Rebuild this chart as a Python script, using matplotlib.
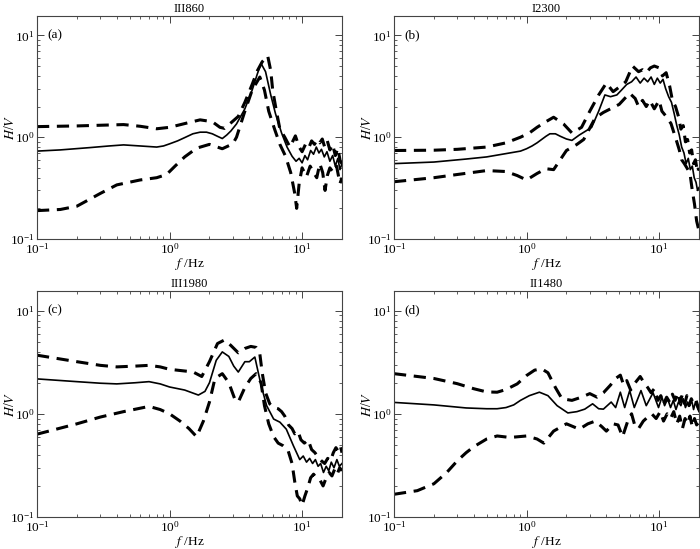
import matplotlib
matplotlib.use("Agg")
import matplotlib.pyplot as plt
from matplotlib.ticker import LogLocator, NullFormatter

plt.rcParams['font.family'] = ['Liberation Serif', 'DejaVu Serif']
plt.rcParams['mathtext.fontset'] = 'stix'

titles = ["III860", "I2300", "III1980", "II1480"]
panel_tags = ["(a)", "(b)", "(c)", "(d)"]

# ---- panel (a) ----
a_mean_f = [0.1, 0.15, 0.25, 0.35, 0.45, 0.6, 0.8, 0.9, 1.0, 1.15, 1.3, 1.5, 1.7, 1.9, 2.1, 2.3, 2.5, 2.7, 2.9, 3.2, 3.7, 4.2, 4.6, 4.9, 5.3, 5.8, 6.3, 7.0, 7.7, 8.4, 9.0, 9.5, 10.0, 10.5, 11.0, 11.6, 12.2, 12.8, 13.4, 14.0, 14.7, 15.4, 16.2, 17.0, 17.8, 18.6, 19.3, 20.0]
a_mean_h = [0.73, 0.75, 0.79, 0.82, 0.84, 0.82, 0.80, 0.82, 0.86, 0.92, 0.99, 1.08, 1.12, 1.12, 1.08, 1.02, 0.97, 1.05, 1.15, 1.35, 1.9, 2.9, 4.2, 5.3, 4.4, 2.6, 1.7, 1.1, 0.80, 0.65, 0.58, 0.62, 0.56, 0.66, 0.60, 0.74, 0.68, 0.80, 0.70, 0.76, 0.64, 0.72, 0.58, 0.66, 0.52, 0.62, 0.48, 0.55]
a_up_f = [0.1, 0.2, 0.3, 0.45, 0.6, 0.8, 1.0, 1.3, 1.7, 2.1, 2.4, 2.6, 2.9, 3.3, 3.7, 4.2, 4.6, 5.0, 5.5, 5.8, 6.0, 6.4, 6.8, 7.4, 8.1, 8.9, 9.5, 10.0, 10.6, 11.2, 11.8, 12.4, 13.0, 13.6, 14.2, 14.8, 15.5, 16.2, 17.0, 17.8, 18.6, 19.4, 20.0]
a_up_h = [1.27, 1.29, 1.31, 1.33, 1.28, 1.21, 1.25, 1.36, 1.48, 1.42, 1.25, 1.22, 1.38, 1.6, 2.2, 3.3, 4.5, 5.5, 6.3, 4.5, 2.9, 1.8, 1.2, 1.0, 0.8, 1.03, 0.80, 0.72, 0.85, 0.78, 0.92, 0.85, 0.95, 0.88, 0.96, 0.80, 0.92, 0.75, 0.85, 0.66, 0.78, 0.58, 0.55]
a_lo_f = [0.1, 0.15, 0.2, 0.3, 0.4, 0.6, 0.8, 0.95, 1.1, 1.3, 1.6, 2.0, 2.5, 3.0, 3.2, 3.7, 4.2, 4.8, 5.2, 5.6, 6.2, 6.8, 7.5, 8.2, 8.8, 9.1, 9.5, 10.0, 10.8, 11.5, 12.2, 12.9, 13.6, 14.3, 14.9, 15.5, 16.2, 17.2, 18.2, 19.3, 20.0]
a_lo_h = [0.19, 0.195, 0.21, 0.28, 0.34, 0.38, 0.40, 0.43, 0.52, 0.64, 0.78, 0.85, 0.77, 0.86, 1.0, 1.8, 2.9, 3.9, 2.9, 1.8, 1.2, 0.85, 0.65, 0.45, 0.28, 0.20, 0.35, 0.50, 0.41, 0.52, 0.45, 0.40, 0.55, 0.45, 0.30, 0.42, 0.50, 0.45, 0.52, 0.35, 0.40]

# ---- panel (b) ----
b_mean_f = [0.1, 0.2, 0.35, 0.5, 0.7, 0.9, 1.0, 1.1, 1.2, 1.3, 1.4, 1.5, 1.65, 1.8, 2.0, 2.2, 2.5, 2.8, 3.1, 3.5, 3.9, 4.3, 4.8, 5.2, 5.7, 6.2, 6.7, 7.2, 7.7, 8.2, 8.7, 9.2, 9.7, 10.2, 10.7, 11.2, 11.8, 12.4, 13.0, 13.6, 14.2, 14.8, 15.4, 16.0, 16.6, 17.2, 17.8, 18.4, 19.0, 19.5, 20.0]
b_mean_h = [0.55, 0.57, 0.61, 0.64, 0.69, 0.73, 0.77, 0.82, 0.88, 0.95, 1.02, 1.08, 1.08, 1.02, 0.96, 0.93, 1.05, 1.15, 1.25, 1.8, 2.6, 2.5, 2.6, 2.9, 3.3, 3.5, 3.9, 3.4, 3.8, 3.5, 3.9, 3.3, 3.8, 3.4, 3.7, 3.0, 2.5, 2.2, 1.7, 1.3, 1.05, 0.80, 0.70, 0.55, 0.62, 0.48, 0.52, 0.40, 0.36, 0.30, 0.32]
b_up_f = [0.1, 0.2, 0.3, 0.5, 0.7, 0.9, 1.05, 1.2, 1.4, 1.6, 1.9, 2.2, 2.6, 3.0, 3.5, 4.0, 4.5, 5.0, 5.6, 6.3, 7.0, 7.5, 8.0, 8.6, 9.2, 10.0, 10.6, 11.3, 12.0, 12.6, 13.3, 14.0, 14.6, 15.2, 15.8, 16.4, 17.0, 17.6, 18.2, 18.8, 19.5, 20.0]
b_up_h = [0.74, 0.745, 0.76, 0.80, 0.88, 1.0, 1.1, 1.25, 1.42, 1.57, 1.35, 1.1, 1.25, 1.8, 2.6, 3.4, 2.8, 3.1, 3.5, 5.0, 4.4, 4.6, 4.3, 4.8, 5.0, 4.8, 4.0, 4.3, 3.2, 2.3, 2.0, 1.6, 1.2, 1.3, 0.9, 0.95, 0.7, 0.75, 0.55, 0.6, 0.45, 0.5]
b_lo_f = [0.1, 0.2, 0.3, 0.5, 0.7, 0.85, 1.0, 1.2, 1.4, 1.6, 2.0, 2.4, 2.7, 3.3, 3.8, 4.3, 5.0, 5.5, 6.0, 6.6, 7.0, 7.5, 8.0, 8.5, 9.2, 10.0, 10.5, 11.3, 12.3, 13.5, 14.2, 14.8, 15.5, 16.2, 17.1, 17.8, 18.5, 19.2, 20.0]
b_lo_h = [0.365, 0.40, 0.43, 0.47, 0.46, 0.42, 0.38, 0.44, 0.49, 0.48, 0.74, 0.85, 0.95, 1.55, 1.75, 1.9, 2.1, 2.4, 2.7, 2.4, 2.0, 2.3, 2.0, 2.3, 1.9, 2.3, 1.8, 1.6, 1.36, 0.93, 0.75, 0.6, 0.55, 0.5, 0.44, 0.3, 0.22, 0.15, 0.12]

# ---- panel (c) ----
c_mean_f = [0.1, 0.2, 0.3, 0.4, 0.55, 0.7, 0.85, 1.0, 1.3, 1.65, 1.85, 2.0, 2.25, 2.5, 2.8, 3.05, 3.3, 3.7, 4.0, 4.4, 4.9, 5.4, 6.1, 6.8, 7.6, 8.6, 9.6, 10.2, 10.8, 11.4, 12.0, 12.6, 13.2, 13.8, 14.5, 15.2, 15.9, 16.6, 17.4, 18.3, 19.1, 20.0]
c_mean_h = [2.18, 2.05, 1.98, 1.95, 2.0, 2.05, 1.95, 1.82, 1.70, 1.52, 1.65, 2.0, 3.3, 3.98, 3.6, 2.9, 2.54, 3.2, 3.2, 3.55, 1.9, 1.2, 0.89, 0.83, 0.71, 0.49, 0.36, 0.39, 0.34, 0.37, 0.33, 0.36, 0.31, 0.33, 0.27, 0.31, 0.28, 0.34, 0.30, 0.36, 0.31, 0.33]
c_up_f = [0.1, 0.2, 0.3, 0.4, 0.55, 0.7, 0.85, 1.0, 1.3, 1.5, 1.75, 2.0, 2.3, 2.6, 2.9, 3.3, 3.7, 4.1, 4.5, 4.8, 5.0, 5.3, 5.7, 6.1, 6.6, 7.0, 7.4, 7.9, 8.4, 8.8, 9.3, 9.8, 10.4, 11.1, 11.8, 12.5, 13.2, 14.0, 14.8, 15.6, 16.4, 17.2, 18.0, 18.8, 19.5, 20.0]
c_up_h = [3.7, 3.2, 2.95, 2.85, 2.9, 2.95, 2.85, 2.7, 2.6, 2.55, 2.3, 3.2, 4.8, 5.2, 4.6, 3.9, 4.3, 4.5, 4.4, 3.8, 2.5, 1.6, 1.25, 1.15, 1.12, 1.05, 0.95, 0.78, 0.72, 0.64, 0.68, 0.56, 0.52, 0.56, 0.45, 0.42, 0.38, 0.35, 0.33, 0.37, 0.35, 0.42, 0.47, 0.43, 0.48, 0.42]
c_lo_f = [0.1, 0.2, 0.3, 0.45, 0.7, 0.85, 1.0, 1.2, 1.4, 1.6, 1.8, 2.0, 2.2, 2.5, 2.8, 3.1, 3.3, 3.7, 4.1, 4.5, 4.9, 5.2, 5.6, 6.1, 6.6, 7.2, 7.8, 8.4, 8.8, 9.2, 9.6, 10.0, 10.5, 11.0, 11.6, 12.2, 12.8, 13.6, 14.4, 15.2, 16.0, 16.8, 17.6, 18.4, 19.2, 20.0]
c_lo_h = [0.635, 0.8, 0.93, 1.05, 1.18, 1.1, 1.0, 0.85, 0.72, 0.6, 0.85, 1.3, 2.2, 2.45, 2.0, 1.4, 1.3, 1.8, 2.2, 2.45, 2.0, 1.2, 0.8, 0.6, 0.52, 0.49, 0.45, 0.33, 0.22, 0.16, 0.15, 0.13, 0.16, 0.19, 0.24, 0.26, 0.24, 0.23, 0.20, 0.24, 0.27, 0.25, 0.29, 0.26, 0.30, 0.28]

# ---- panel (d) ----
d_mean_f = [0.1, 0.2, 0.35, 0.5, 0.6, 0.7, 0.8, 0.9, 1.05, 1.25, 1.45, 1.7, 2.05, 2.4, 2.75, 3.15, 3.5, 3.8, 4.35, 4.7, 5.1, 5.5, 6.0, 6.5, 7.3, 8.0, 9.0, 9.9, 10.5, 11.0, 11.6, 12.2, 12.8, 13.4, 14.0, 14.6, 15.2, 15.8, 16.4, 17.0, 17.6, 18.2, 18.8, 19.4, 20.0]
d_mean_h = [1.29, 1.22, 1.14, 1.12, 1.12, 1.15, 1.22, 1.35, 1.5, 1.62, 1.5, 1.2, 1.02, 1.05, 1.11, 1.25, 1.12, 1.11, 1.3, 1.15, 1.62, 1.15, 1.68, 1.15, 1.68, 1.2, 1.6, 1.15, 1.45, 1.2, 1.4, 1.15, 1.35, 1.1, 1.3, 1.2, 1.4, 1.15, 1.3, 1.2, 1.35, 1.1, 1.3, 1.15, 1.05]
d_up_f = [0.1, 0.2, 0.3, 0.4, 0.5, 0.6, 0.7, 0.85, 1.0, 1.15, 1.3, 1.45, 1.65, 1.85, 2.2, 2.6, 3.0, 3.4, 3.8, 4.3, 4.7, 5.1, 5.4, 5.7, 6.1, 6.6, 7.2, 7.7, 8.2, 8.7, 9.2, 9.8, 10.3, 10.8, 11.4, 12.0, 12.6, 13.2, 13.8, 14.4, 15.0, 15.6, 16.2, 16.8, 17.5, 18.2, 19.0, 20.0]
d_up_h = [2.45, 2.2, 1.96, 1.75, 1.63, 1.62, 1.72, 1.95, 2.35, 2.65, 2.73, 2.5, 1.8, 1.4, 1.35, 1.45, 1.57, 1.45, 1.6, 1.9, 2.2, 2.37, 1.9, 2.1, 1.7, 2.0, 2.3, 2.0, 1.8, 1.6, 1.75, 1.35, 1.5, 1.25, 1.45, 1.3, 1.55, 1.35, 1.6, 1.3, 1.55, 1.25, 1.5, 1.2, 1.4, 1.25, 1.35, 1.1]
d_lo_f = [0.1, 0.15, 0.2, 0.25, 0.3, 0.35, 0.4, 0.5, 0.6, 0.75, 1.0, 1.2, 1.35, 1.6, 2.0, 2.5, 2.9, 3.3, 3.7, 4.0, 4.5, 4.9, 5.3, 5.8, 6.2, 6.6, 7.0, 7.6, 8.2, 8.8, 9.5, 10.2, 10.8, 11.5, 12.2, 12.9, 13.6, 14.3, 15.0, 15.7, 16.4, 17.1, 17.8, 18.5, 19.2, 20.0]
d_lo_h = [0.166, 0.18, 0.21, 0.27, 0.35, 0.42, 0.48, 0.57, 0.61, 0.59, 0.61, 0.57, 0.52, 0.68, 0.8, 0.71, 0.8, 0.85, 0.75, 0.68, 0.8, 0.78, 0.6, 0.85, 1.0, 0.75, 0.72, 0.85, 0.93, 1.0, 0.9, 1.05, 0.85, 1.0, 0.9, 1.05, 0.8, 0.95, 0.72, 0.9, 0.8, 0.95, 0.75, 0.9, 0.78, 0.85]

panels = [
    (a_mean_f, a_mean_h, a_up_f, a_up_h, a_lo_f, a_lo_h),
    (b_mean_f, b_mean_h, b_up_f, b_up_h, b_lo_f, b_lo_h),
    (c_mean_f, c_mean_h, c_up_f, c_up_h, c_lo_f, c_lo_h),
    (d_mean_f, d_mean_h, d_up_f, d_up_h, d_lo_f, d_lo_h),
]

W, H = 700, 549
boxes = [  # left, top, right, bottom in pixels
    (37, 16, 342, 239),
    (394, 16, 699, 239),
    (37, 291, 342, 517),
    (394, 291, 699, 517),
]

fig = plt.figure(figsize=(7.0, 5.49), dpi=100)
for i, (box, data) in enumerate(zip(boxes, panels)):
    l, t, r, b = box
    ax = fig.add_axes([l / W, 1 - b / H, (r - l) / W, (b - t) / H])
    mf, mh, uf, uh, lf, lh = data
    ax.plot(mf, mh, color='black', lw=1.2, solid_joinstyle='round')
    ax.plot(uf, uh, color='black', lw=2.2, dashes=(4, 2.5))
    ax.plot(lf, lh, color='black', lw=2.2, dashes=(4, 2.5))
    ax.set_xscale('log')
    ax.set_yscale('log')
    ax.set_xlim(0.1, 20)
    ax.set_ylim(0.1, 15.5)
    ax.xaxis.set_major_locator(LogLocator(base=10, numticks=10))
    ax.yaxis.set_major_locator(LogLocator(base=10, numticks=10))
    ax.xaxis.set_minor_locator(LogLocator(base=10, subs=range(2, 10), numticks=20))
    ax.yaxis.set_minor_locator(LogLocator(base=10, subs=range(2, 10), numticks=20))
    ax.xaxis.set_minor_formatter(NullFormatter())
    ax.yaxis.set_minor_formatter(NullFormatter())
    ax.tick_params(which='both', direction='in', top=True, right=True, labelsize=9.5, color='#444444')
    ax.tick_params(which='major', length=5, width=0.7, pad=2)
    ax.tick_params(which='minor', length=2.5, width=0.6)
    for s in ax.spines.values():
        s.set_linewidth(0.8)
        s.set_color('#444444')
    ax.set_title(titles[i], fontsize=9, pad=3)
    ax.text(0.035, 0.915, panel_tags[i], transform=ax.transAxes, fontsize=9.5, va='center', ha='left')
    ax.set_ylabel(r'$H$/$V$', fontsize=10)
    ax.yaxis.set_label_coords(-0.066, 0.5)
    ax.set_xlabel(r'$f$ /Hz', fontsize=9.5)
    ax.xaxis.set_label_coords(0.5, -0.075)

fig.savefig('out.png', dpi=100)
